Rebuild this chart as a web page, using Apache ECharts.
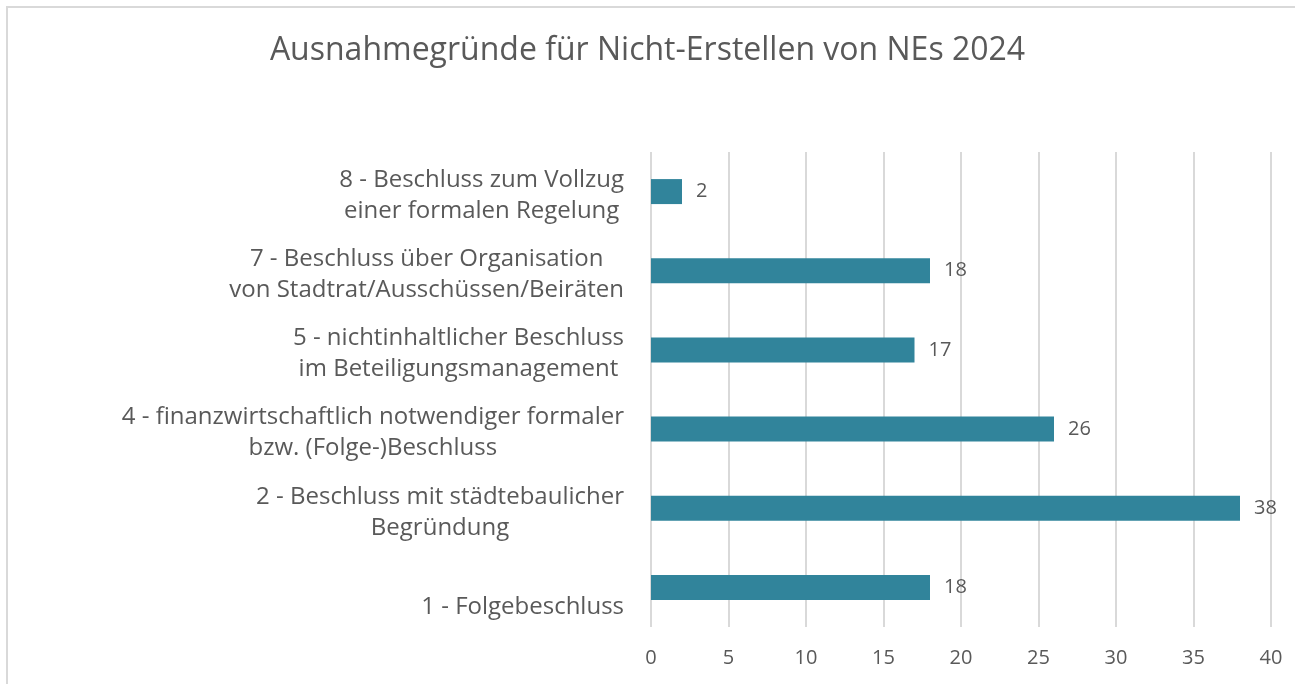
<!DOCTYPE html>
<html>
<head>
<meta charset="utf-8">
<script src="https://cdn.jsdelivr.net/npm/echarts@6/dist/echarts.min.js"></script>
<style>
html, body { margin: 0; padding: 0; background: #fff; }
#chart { width: 1295px; height: 684px; }
</style>
</head>
<body>
<div id="chart"></div>
<script>
// Kategorien von unten nach oben
var categories = [
    '\n1 - Folgebeschluss',
    '2 - Beschluss mit städtebaulicher\nBegründung',
    '4 - finanzwirtschaftlich notwendiger formaler\nbzw. (Folge-)Beschluss',
    '5 - nichtinhaltlicher Beschluss\nim Beteiligungsmanagement',
    '7 - Beschluss über Organisation\nvon Stadtrat/Ausschüssen/Beiräten',
    '8 - Beschluss zum Vollzug\neiner formalen Regelung'
];
var counts = [18, 38, 26, 17, 18, 2];
var xTicks = [0, 40, 5]; // min, max, interval

var FONT = '"Open Sans", Lato, sans-serif';
var chart = echarts.init(document.getElementById('chart'));

var option = {
    backgroundColor: '#fff',
    animation: false,
    title: {
        text: 'Ausnahmegründe für Nicht-Erstellen von NEs 2024',
        left: 'center',
        top: 30,
        textStyle: { fontFamily: FONT, fontSize: 32, fontWeight: 'normal', color: '#595959' }
    },
    graphic: [{
        type: 'rect',
        shape: { x: 7, y: 7, width: 1300, height: 700 },
        style: { fill: 'none', stroke: '#d9d9d9', lineWidth: 2 },
        silent: true
    }],
    grid: { left: 651, right: 24, top: 152, bottom: 57, containLabel: false },
    xAxis: {
        type: 'value',
        min: xTicks[0],
        max: xTicks[1],
        interval: xTicks[2],
        axisLine: { show: false },
        axisTick: { show: false },
        splitLine: { lineStyle: { color: '#d9d9d9', width: 2 } },
        axisLabel: { fontFamily: FONT, fontSize: 20, color: '#595959', margin: 21 }
    },
    yAxis: {
        type: 'category',
        data: categories,
        axisLine: { show: false },
        axisTick: { show: false },
        splitLine: { show: false },
        axisLabel: {
            margin: 27,
            padding: [8, 0, 0, 0],
            formatter: function (v) {
                return v.split('\n').map(function (s) { return '{c|' + s + '}'; }).join('\n');
            },
            rich: {
                c: { align: 'center', fontFamily: FONT, fontSize: 24, lineHeight: 31, color: '#595959' }
            }
        }
    },
    series: [{
        type: 'bar',
        data: counts,
        barWidth: 25,
        itemStyle: { color: '#31849b' },
        label: {
            show: true,
            position: 'right',
            distance: 14,
            fontFamily: FONT,
            fontSize: 20,
            color: '#595959'
        }
    }]
};

chart.setOption(option);
</script>
</body>
</html>
